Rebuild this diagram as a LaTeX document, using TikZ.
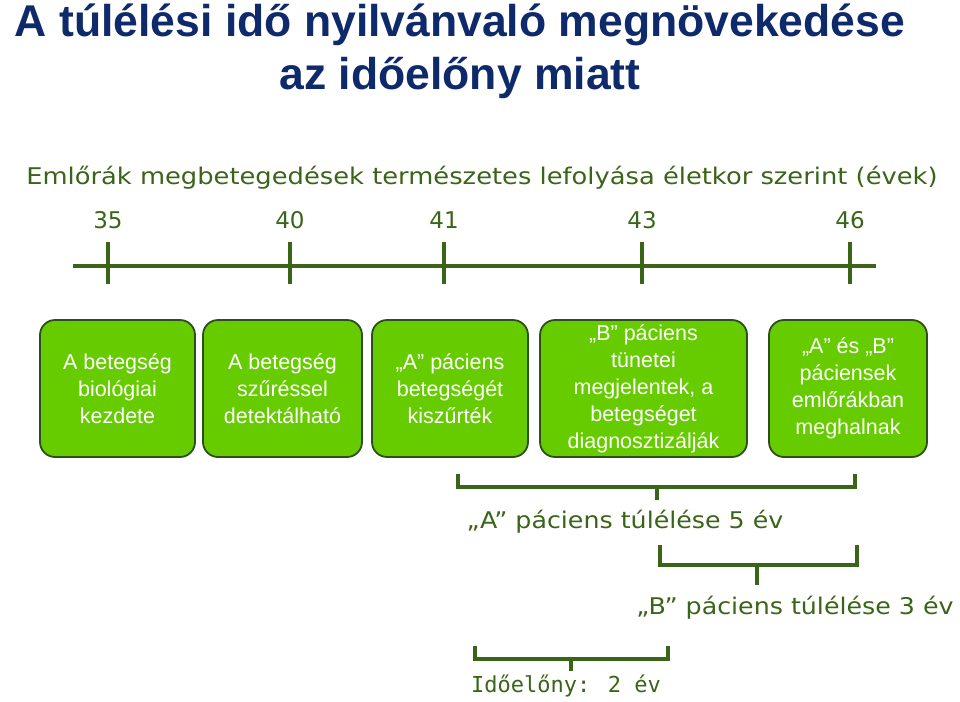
\documentclass[tikz,border=0pt]{standalone}
\usepackage{fontspec}
\setmainfont{Liberation Sans}
\newfontfamily\dv{DejaVu Sans}
\newfontfamily\dvm{DejaVu Sans Mono}
\definecolor{navy}{HTML}{0F2A6B}
\definecolor{dg}{HTML}{3A6418}
\definecolor{bord}{HTML}{2E4E1E}
\definecolor{boxg}{HTML}{66CC00}
\tikzset{
 evbox/.style={draw=bord,line width=1.8pt,fill=boxg,rounded corners=15pt,text=white,align=center,font=\fontsize{21.5}{27}\selectfont,inner sep=0pt},
 brk/.style={draw=dg,line width=4pt},
 gt/.style={text=dg,inner sep=0pt},
}
\begin{document}
\begin{tikzpicture}[x=1pt,y=-1pt]
\useasboundingbox (0,0) rectangle (960,701);
\node[text=navy,font=\fontsize{44.5}{53}\bfseries\selectfont,align=center] (t) at (460,51) {A túlélési idő nyilvánvaló megnövekedése\\az időelőny miatt};
\node[gt,font=\dv\fontsize{23}{26}\selectfont] (s) at (482,178) {\scalebox{1.12}[1]{Emlőrák megbetegedések természetes lefolyása életkor szerint (évek)}};
\draw[dg,line width=4pt] (73,266) coordinate (a0) -- (876,266) coordinate (a1);
\foreach \x/\n [count=\i] in {108/35,290/40,444/41,642/43,850/46}{
 \draw[dg,line width=4pt] (\x,242) coordinate (tk\i) -- (\x,284);
 \node[gt,font=\dv\fontsize{23}{26}\selectfont] (n\i) at (\x,220) {\n};
}
\node[evbox,minimum width=155pt,minimum height=137pt] (b1) at (117.5,388.5) {A betegség\\biológiai\\kezdete};
\node[evbox,minimum width=159pt,minimum height=137pt] (b2) at (282.5,388.5) {A betegség\\szűréssel\\detektálható};
\node[evbox,minimum width=156pt,minimum height=137pt] (b3) at (450,388.5) {„A” páciens\\betegségét\\kiszűrték};
\node[evbox,minimum width=207pt,minimum height=137pt] (b4) at (643.5,388.5) {„B” páciens\\tünetei\\megjelentek, a\\betegséget\\diagnosztizálják};
\node[evbox,minimum width=158pt,minimum height=137pt] (b5) at (848,388.5) {„A” és „B”\\páciensek\\emlőrákban\\meghalnak};
\draw[brk] (458,474) -- (458,487) -- (855,487) -- (855,474);
\draw[brk] (657,487) -- (657,500);
\node[gt,font=\dv\fontsize{23}{26}\selectfont] (l1) at (625,522) {\scalebox{1.1}[1]{„A” páciens túlélése 5 év}};
\draw[brk] (660,545) -- (660,565) -- (857,565) -- (857,545);
\draw[brk] (757,565) -- (757,585);
\node[gt,font=\dv\fontsize{23}{26}\selectfont] (l2) at (795,608) {\scalebox{1.1}[1]{„B” páciens túlélése 3 év}};
\draw[brk] (475,646) -- (475,659) -- (668,659) -- (668,646);
\draw[brk] (571,659) -- (571,671);
\node[gt,font=\dvm\fontsize{22}{24}\selectfont] (l3) at (566,686) {Időelőny: 2 év};
\end{tikzpicture}
\end{document}
